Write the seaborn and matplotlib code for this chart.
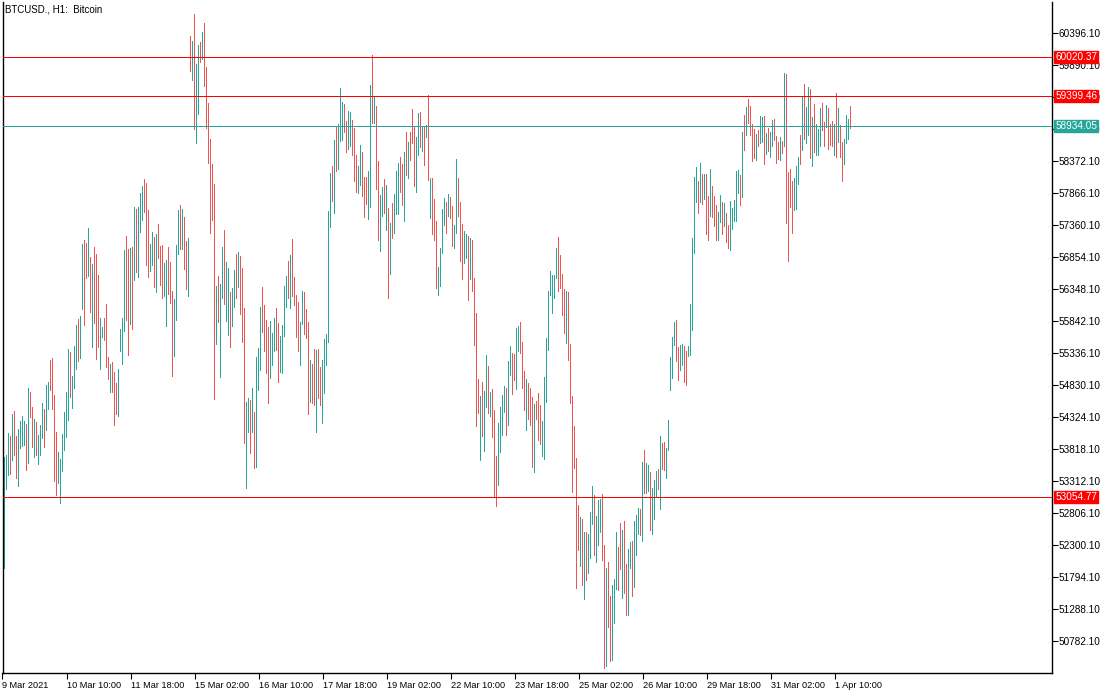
import numpy as np
import pandas as pd
import matplotlib
matplotlib.use("Agg")
from matplotlib import pyplot as plt
import seaborn as sns

# BTCUSD H1 bars (one value per hour, weekends skipped)
highs = [
    53688, 53725, 54073, 54031, 54379, 54421, 54031, 54136, 54262, 54342,
    54262, 54215, 54784, 54721, 54484, 54294, 54241, 54041, 54199, 54547,
    54452, 54832, 54879, 55223, 55254, 54674, 54088, 53772, 53662, 54057,
    54405, 54721, 55402, 55354, 54974, 55449, 55776, 55871, 55918, 57063,
    57126, 57079, 57316, 56857, 56747, 57016, 56905, 56572, 55892, 55744,
    55887, 56113, 55270, 55159, 55191, 55037, 54863, 55080, 55713, 55887,
    56968, 57189, 56984, 57000, 57016, 57648, 57616, 57648, 57870, 57980,
    58091, 58028, 57601, 57068, 57253, 57174, 57221, 57379, 57031, 57052,
    56767, 56809, 57015, 56783, 56319, 56198, 57047, 57601, 57680, 57617,
    57490, 57110, 57163, 60354, 60279, 60702, 59910, 60216, 60258, 60422,
    60565, 59868, 59299, 58723, 58328, 58012, 56404, 56556, 56435, 57020,
    57284, 56783, 56683, 56309, 56367, 56651, 56909, 56936, 56878, 56683,
    56051, 54568, 54632, 54600, 54790, 54411, 55280, 55422, 56072, 56382,
    56103, 55866, 55755, 55850, 55660, 55898, 56056, 55808, 55613, 55782,
    56404, 56562, 56794, 56889, 57142, 56541, 56256, 56146, 55829, 56320,
    56304, 56040, 55834, 55228, 55165, 55402, 55391, 55402, 55117, 55228,
    55565, 55644, 57590, 58191, 58302, 58713, 58935, 58966, 59536, 59315,
    59283, 59008, 59172, 59157, 59030, 58903, 58476, 58302, 58634, 58524,
    58128, 58128, 58223, 59584, 60053, 59394, 59251, 58381, 57844, 57970,
    58096, 58002, 57638, 57400, 57717, 57860, 58223, 58350, 58445, 58334,
    58524, 58840, 58682, 58829, 59199, 58935, 58761, 59141, 59157, 58935,
    58919, 58950, 59426, 58107, 58112, 57780, 57432, 56704, 57005, 57622,
    57796, 57732, 57859, 57812, 57669, 57369, 58412, 58112, 57732, 57385,
    57274, 57227, 57195, 57163, 57132, 56530, 55976, 54932, 54663, 54884,
    54742, 55312, 55138, 54727, 54774, 54442, 53715, 54237, 54489, 54679,
    54821, 54790, 55217, 55455, 55344, 55328, 55739, 55771, 55834, 55518,
    55059, 54932, 54869, 54790, 54648, 54537, 54584, 54711, 54521, 54268,
    54964, 55581, 56324, 56641, 56577, 56577, 57005, 57179, 56894, 56593,
    56356, 56324, 56309, 55486, 54663, 54185, 53682, 52938, 52748, 52713,
    52505, 52505, 52470, 52817, 53238, 53094, 52765, 53007, 53030, 53111,
    52297, 51944, 52025, 51489, 51668, 51766, 52505, 52273, 52655, 52545,
    52678, 52008, 52245, 52343, 52366, 52684, 52776, 52880, 52875, 53618,
    53803, 53601, 53567, 53457, 53203, 53336, 53475, 53503, 54029, 53919,
    53930, 53838, 54277, 55270, 55588, 55825, 55865, 55432, 55467, 55484,
    55450, 55369, 55450, 56119, 57165, 58128, 58284, 58059, 58341, 58169,
    58169, 58169, 57822, 58255, 57978, 57822, 57678, 57574, 57844, 57732,
    57716, 57558, 57368, 57748, 57637, 57764, 58223, 58239, 58160, 58840,
    59109, 59235, 59362, 59251, 58966, 58887, 58808, 58871, 59093, 59077,
    59093, 58824, 58903, 58840, 59030, 59045, 58777, 58682, 58761, 58698,
    59774, 59758, 58208, 58255, 58065, 58102, 58302, 58445, 58793, 59394,
    59600, 59235, 59552, 59521, 59077, 59283, 58966, 58887, 59219, 59298,
    58998, 59267, 59219, 58966, 59014, 58956, 59457, 59219, 58950, 58682,
    58729, 59109, 59045, 59251,
]
lows = [
    51943, 53186, 53408, 53429, 53651, 53725, 53366, 53239, 53841, 53873,
    53883, 53493, 53598, 54326, 53852, 53693, 53725, 53588, 53725, 53999,
    53852, 54125, 54452, 54753, 54452, 53313, 53091, 53281, 52970, 53471,
    53804, 54010, 54278, 54642, 54468, 54784, 55085, 55207, 55254, 56034,
    55776, 56524, 56556, 55987, 55434, 55808, 55238, 55434, 55085, 55592,
    55544, 55117, 54927, 54721, 54721, 54199, 54373, 54342, 55370, 55159,
    55681, 55855, 55302, 55792, 55713, 56493, 56619, 56540, 57252, 57442,
    57569, 56735, 56546, 56641, 56735, 56388, 56309, 56846, 56419, 56214,
    56245, 55771, 56277, 56124, 54980, 55296, 55866, 56909, 56989, 56989,
    56672, 56356, 56245, 59804, 59662, 58888, 58665, 59125, 59947, 59984,
    59568, 58903, 58349, 57242, 57448, 54616, 55486, 55834, 54964, 56214,
    56108, 55850, 55629, 55438, 55771, 56066, 56214, 56388, 55961, 55517,
    53909, 53197, 54094, 53761, 54089, 53513, 53540, 54758, 55074, 55676,
    55375, 55017, 54553, 54948, 55143, 55364, 55391, 54885, 55043, 55027,
    55613, 56072, 56214, 56056, 56246, 56104, 55586, 55375, 55143, 55802,
    55644, 55581, 54379, 54569, 54543, 54522, 54094, 54632, 54522, 54236,
    54711, 55143, 55517, 57337, 57749, 57559, 58223, 58255, 58697, 58713,
    58840, 58524, 58571, 58618, 58476, 58065, 57891, 57875, 58002, 57828,
    57495, 57701, 57463, 57654, 58977, 58982, 57939, 57131, 56957, 57511,
    57554, 57289, 56214, 56594, 57163, 57237, 57542, 57542, 57891, 57686,
    57432, 58149, 58107, 58387, 58666, 57986, 57891, 58466, 58602, 58539,
    58318, 58761, 58081, 57479, 57227, 57132, 56372, 56261, 56403, 56926,
    57369, 57242, 57511, 57479, 57037, 57005, 57242, 57511, 56799, 56514,
    56767, 56846, 56182, 56514, 56324, 55471, 54189, 54394, 53652, 54031,
    53793, 54489, 54394, 54347, 54015, 53081, 52923, 53256, 53778, 54047,
    54410, 54047, 54205, 54995, 54695, 54916, 54774, 55376, 55344, 54790,
    54442, 54126, 54300, 54205, 53541, 53462, 54300, 53968, 53904, 53715,
    53667, 54568, 55391, 56261, 55976, 56214, 56530, 56324, 56372, 55945,
    55660, 55502, 55233, 54553, 53145, 53515, 51627, 52222, 51973, 51662,
    51454, 51748, 51852, 52094, 52626, 52146, 52025, 52302, 52499, 52066,
    50362, 50380, 51004, 50466, 50489, 51062, 51604, 51592, 51921, 51465,
    51535, 51200, 51200, 51939, 51500, 51644, 52141, 52470, 52453, 52366,
    53117, 53128, 53151, 52534, 52470, 52719, 53076, 53192, 52875, 53503,
    53480, 53353, 53798, 54756, 54947, 55467, 55218, 54906, 55068, 55155,
    54878, 54837, 55293, 55306, 55710, 56916, 57730, 57557, 57730, 57695,
    57782, 57228, 57130, 57505, 57488, 57355, 57130, 57131, 57416, 57226,
    57352, 57100, 57005, 56973, 57305, 57432, 57432, 57875, 57685, 57812,
    58555, 58793, 58982, 58793, 58381, 58429, 58397, 58619, 58666, 58682,
    58334, 58492, 58539, 58445, 58619, 58713, 58350, 58413, 58397, 58508,
    58619, 57400, 56799, 57653, 57242, 57606, 57622, 58018, 58334, 58555,
    58729, 58666, 58793, 58429, 58302, 58524, 58476, 58476, 58619, 58871,
    58619, 58919, 58571, 58634, 58619, 58476, 58445, 58682, 58445, 58065,
    58334, 58666, 58729, 58903,
]
# T = bull bar (close > open), R = bear bar
direction = (
    "TTTRTRRTTT" "TRTRRTRTTT" "RTTRRRRTTT" "TTTRTTTRTT" "RRTRTRRRTT"
    "RRRTRRRTTT" "TRRTRTRTTT" "RRRTTRTRRR" "TTRRRTTTRT" "RRTRTRTTRT"
    "RRRRRRTRTT" "RTTRTTRTRR" "RTTRTRTTTR" "RRRTTTRRTT" "TTRTRRRRTT"
    "RRRTRRTRRT" "TTTTRTRTTT" "RRTTRRRTTR" "RRTTRTRRTT" "RTRTRTTTRR"
    "TRTRRRTTRT" "RTRTRRRTTT" "TRTRRTTRRR" "TTRTRRRRTR" "TTRTRRRTTT"
    "TRTTRRTTRR" "RTRRRTRRRT" "TTTTTTTRRR" "RTRRRRRRTR" "TRTTTRTTTR"
    "RTRRTTTRRT" "RRTTRTTTRT" "RTTRTTTRTR" "RTTTTTRRTT" "RRTTTTTRTR"
    "TRRTRRRTTR" "TRRTTTTTRT" "RTRRRRTRTT" "RTRTTRRRTR" "TRRRRTTTRT"
    "RTTRTRTTTR" "RTRRRTRTRR" "TTTR"
)

# horizontal price levels drawn on the chart
level_prices = [60020.37, 59399.46, 58934.05, 53054.77]
level_labels = ["60020.37", "59399.46", "58934.05", "53054.77"]
level_colors = ["#ff0000", "#ff0000", "#26a69a", "#ff0000"]

price_ticks = [50782.10, 51288.10, 51794.10, 52300.10, 52806.10, 53312.10,
               53818.10, 54324.10, 54830.10, 55336.10, 55842.10, 56348.10,
               56854.10, 57360.10, 57866.10, 58372.10, 58878.10, 59384.10,
               59890.10, 60396.10]
date_labels = ["9 Mar 2021", "10 Mar 10:00", "11 Mar 18:00", "15 Mar 02:00",
               "16 Mar 10:00", "17 Mar 18:00", "19 Mar 02:00", "22 Mar 10:00",
               "23 Mar 18:00", "25 Mar 02:00", "26 Mar 10:00", "29 Mar 18:00",
               "31 Mar 02:00", "1 Apr 10:00"]
bars_per_label = 32

df = pd.DataFrame({"bar": np.arange(len(highs)), "high": highs,
                   "low": lows, "dir": list(direction)})

sns.set_style("white")
plt.rcParams["font.family"] = ["Liberation Sans", "DejaVu Sans"]

fig = plt.figure(figsize=(11.1, 6.94), dpi=100)
ax = fig.add_axes([2.5 / 1110, 21 / 694, 1049.5 / 1110, 671 / 694])

up_col = "#26a69a"
dn_col = "#ef5350"
up = df[df["dir"] == "T"]
dn = df[df["dir"] == "R"]
ax.vlines(up["bar"], up["low"], up["high"], color=up_col, lw=0.6,
          antialiased=False, zorder=2)
ax.vlines(dn["bar"], dn["low"], dn["high"], color=dn_col, lw=0.6,
          antialiased=False, zorder=2)

for p, lab, c in zip(level_prices, level_labels, level_colors):
    ax.axhline(p, color=c, lw=0.72, antialiased=False, zorder=3)
    ax.text(1.003, p, lab, transform=ax.get_yaxis_transform(), ha="left",
            va="center", color="white", fontsize=7.2, zorder=5, clip_on=False,
            bbox=dict(boxstyle="square,pad=0.1", fc=c, ec=c))

ax.set_xlim(-0.65, 523.85)
ax.set_ylim(50276, 60891)

ax.yaxis.tick_right()
ax.set_yticks(price_ticks)
ax.set_yticklabels(["%.2f" % v for v in price_ticks])
xt = [bars_per_label * k - 0.8 for k in range(len(date_labels))]
ax.set_xticks(xt)
ax.set_xticklabels(date_labels, ha="left")
ax.tick_params(axis="y", direction="out", length=4, width=0.8, pad=1,
               labelsize=7.2, colors="black", right=True, left=False)
ax.tick_params(axis="x", direction="out", length=4, width=0.8, pad=2,
               labelsize=6.6, colors="black", bottom=True)

for s in ["left", "bottom", "right"]:
    ax.spines[s].set_color("black")
    ax.spines[s].set_linewidth(1.0)
ax.spines["top"].set_visible(False)

fig.text(5 / 1110, 1 - 9 / 694, "BTCUSD., H1:  Bitcoin", fontsize=7,
         va="center", ha="left", color="black")

fig.savefig("out.png", dpi=100, facecolor="white")
